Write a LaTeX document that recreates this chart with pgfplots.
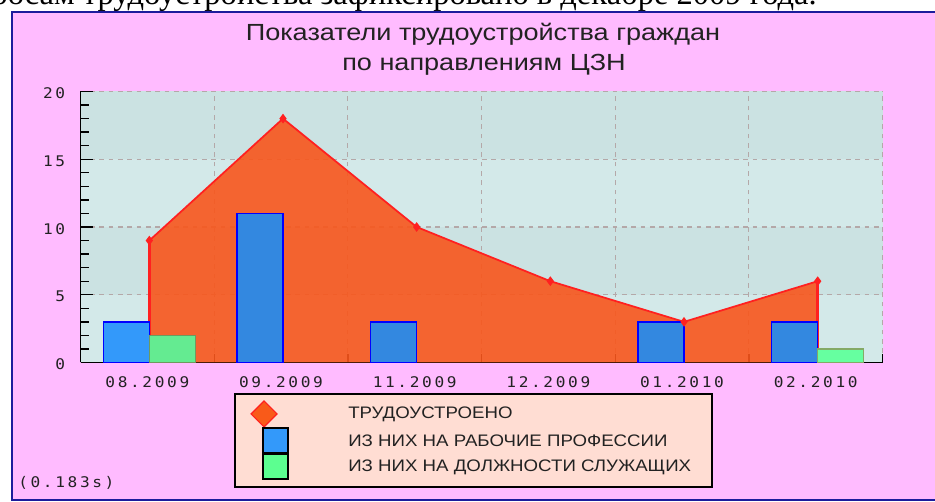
\documentclass[border=0pt]{standalone}
\usepackage{fontspec}
\setmainfont{Liberation Sans}
\newfontfamily\serifru{Liberation Serif}
\newfontfamily\titlef[FakeStretch=1.16]{Liberation Sans}
\newfontfamily\legf[FakeStretch=1.12]{Liberation Sans}
\newfontfamily\monof[FakeStretch=1.1,LetterSpace=18]{DejaVu Sans Mono}
\usepackage{pgfplots}
\pgfplotsset{compat=1.18}
\definecolor{panel}{HTML}{FFBBFF}
\definecolor{navy}{HTML}{1C1C9C}
\definecolor{bandA}{HTML}{D3E9E9}
\definecolor{bandB}{HTML}{CBE2E2}
\definecolor{gridc}{HTML}{B4A8A8}
\definecolor{areaor}{HTML}{F8561C}
\definecolor{linered}{HTML}{FF2020}
\definecolor{blueA}{HTML}{3399FA}
\definecolor{blueB}{HTML}{3388E0}
\definecolor{greenA}{HTML}{64EB91}
\definecolor{greenB}{HTML}{66FFA0}
\definecolor{greenEA}{HTML}{6E9A5E}
\definecolor{greenEB}{HTML}{84AA66}
\definecolor{legbg}{HTML}{FFDDD3}
\definecolor{txt}{HTML}{222222}
\begin{document}
\begin{tikzpicture}[x=0.75pt,y=0.75pt]
\fill[white] (0,0) rectangle (935,502);
\node[anchor=base east, font=\serifru\fontsize{24.4}{28}\selectfont, inner sep=0] at (817,497) {по запросам трудоустройства зафиксировано в декабре 2009 года.};
\fill[panel] (12,1.5) rectangle (945,490);
\draw[navy, line width=1.5pt] (12,1.5) rectangle (945,490);
% title
\node[anchor=base, font=\titlef\fontsize{17.5}{20}\selectfont, text=txt, inner sep=0] at (483,461.7) {Показатели трудоустройства граждан};
\node[anchor=base, font=\titlef\fontsize{17.5}{20}\selectfont, text=txt, inner sep=0] at (484,431.7) {по направлениям ЦЗН};
% plot-area background bands
\fill[bandA] (80.5,139.5) rectangle (882.5,207.25);
\fill[bandB] (80.5,207.25) rectangle (882.5,275);
\fill[bandA] (80.5,275) rectangle (882.5,342.75);
\fill[bandB] (80.5,342.75) rectangle (882.5,410.5);
\begin{axis}[
  at={(60.375pt,104.625pt)}, anchor=south west,
  scale only axis, width=601.5pt, height=203.25pt,
  xmin=-0.5, xmax=5.5, ymin=0, ymax=20,
  axis x line*=bottom, axis y line*=left,
  axis line style={black, line width=1.3pt},
  xtick={0,...,5},
  xticklabels={08.2009,09.2009,11.2009,12.2009,01.2010,02.2010},
  minor xtick={0.5,1.5,...,5.5},
  major x tick style={draw=none},
  ytick={0,5,...,20},
  minor y tick num=4,
  tick align=inside,
  tick style={black, line width=1pt},
  major tick length=9pt, minor tick length=6.5pt,
  ymajorgrids=true, xminorgrids=true,
  major grid style={gridc, line width=0.8pt, dash pattern=on 3.5pt off 3.5pt},
  minor grid style={gridc, line width=0.8pt, dash pattern=on 3.5pt off 3.5pt},
  /pgf/number format/assume math mode=true,
  ticklabel style={font=\monof\fontsize{11}{13}\selectfont, text=txt},
  yticklabel style={xshift=-8pt, yshift=-1.5pt},
  xticklabel style={yshift=-7pt},
]
% area: трудоустроено
\addplot[fill=areaor, fill opacity=0.9, draw=none] coordinates {(0.015,0)(0.015,9)(1.015,18)(2.015,10)(3.015,6)(4.015,3)(5.015,6)(5.015,0)} -- cycle;
\addplot[linered, line width=2.5pt] coordinates {(0.015,0)(0.015,9)};
\addplot[linered, line width=2.5pt] coordinates {(5.015,0)(5.015,6)};
\addplot[linered, line width=1.3pt, mark=diamond*, mark size=2.6pt, mark options={fill=linered, draw=linered}] coordinates {(0.015,9)(1.015,18)(2.015,10)(3.015,6)(4.015,3)(5.015,6)};
% рабочие профессии
\addplot[ybar, bar width=34.5pt, bar shift=-17.25pt, fill=blueA, draw=blue, line width=1.1pt] coordinates {(0.015,3)};
\addplot[ybar, bar width=34.5pt, bar shift=-17.25pt, fill=blueB, draw=blue, line width=1.1pt] coordinates {(1.015,11)(2.015,3)(4.015,3)(5.015,3)};
% служащие
\addplot[ybar, bar width=34.5pt, bar shift=17.25pt, fill=greenA, draw=greenEA, line width=1.1pt] coordinates {(0.015,2)};
\addplot[ybar, bar width=34.5pt, bar shift=17.25pt, fill=greenB, draw=greenEB, line width=1.1pt] coordinates {(5.015,1)};
\end{axis}
% legend
\draw[black, line width=1.1pt, fill=legbg] (235,15) rectangle (712,108);
\draw[fill=areaor!90!orange, draw=linered, line width=0.8pt] (264,101) -- (277,88) -- (264,75) -- (251,88) -- cycle;
\draw[fill=blueA, draw=black, line width=1.5pt] (263,49) rectangle (288,74);
\draw[fill=greenB!90!green, draw=black, line width=1.5pt] (263,23) rectangle (288,48);
\node[anchor=west, font=\legf\fontsize{12.5}{14}\selectfont, text=txt, inner sep=0] at (348,88) {ТРУДОУСТРОЕНО};
\node[anchor=west, font=\legf\fontsize{12.5}{14}\selectfont, text=txt, inner sep=0] at (348,61) {ИЗ НИХ НА РАБОЧИЕ ПРОФЕССИИ};
\node[anchor=west, font=\legf\fontsize{12.5}{14}\selectfont, text=txt, inner sep=0] at (348,35) {ИЗ НИХ НА ДОЛЖНОСТИ СЛУЖАЩИХ};
\node[anchor=west, font=\monof\fontsize{11}{13}\selectfont, text=txt, inner sep=0] at (18,19) {(0.183s)};
\pgfresetboundingbox
\useasboundingbox (0,0) rectangle (935,502);
\end{tikzpicture}
\end{document}
